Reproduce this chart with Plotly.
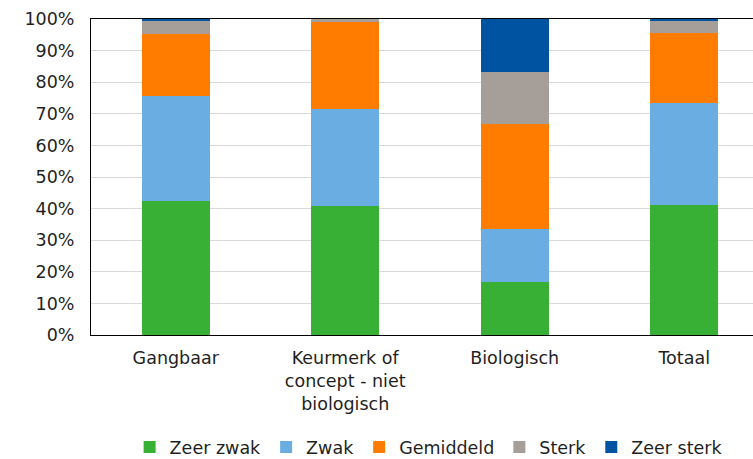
import plotly.graph_objects as go

categories = ["Gangbaar", "Keurmerk of<br>concept - niet<br>biologisch", "Biologisch", "Totaal"]
zeer_zwak = [42.4, 40.8, 16.7, 41.0]
zwak = [33.3, 30.8, 16.7, 32.4]
gemiddeld = [19.5, 27.3, 33.3, 22.2]
sterk = [4.3, 1.1, 16.6, 3.8]
zeer_sterk = [0.5, 0.0, 16.7, 0.6]

series = [
    ("Zeer zwak", zeer_zwak, "#37b035"),
    ("Zwak", zwak, "#6aade3"),
    ("Gemiddeld", gemiddeld, "#ff7c00"),
    ("Sterk", sterk, "#a69e98"),
    ("Zeer sterk", zeer_sterk, "#0053a0"),
]

font = dict(family="DejaVu Sans, Verdana, sans-serif", size=17.5, color="#1f1f1f")

fig = go.Figure()
for name, vals, color in series:
    fig.add_trace(go.Bar(
        x=list(range(len(categories))), y=vals, name=name,
        marker=dict(color=color, line=dict(width=0)),
        width=0.4,
    ))

fig.update_layout(
    barmode="stack",
    width=753, height=459,
    margin=dict(l=91, r=0, t=19, b=124, autoexpand=False),
    paper_bgcolor="white", plot_bgcolor="white",
    font=font,
    showlegend=True,
    legend=dict(
        orientation="h",
        x=0.51, xanchor="center", y=-0.412, yanchor="bottom",
        font=font, itemwidth=30, traceorder="normal",
        bgcolor="rgba(0,0,0,0)",
    ),
    xaxis=dict(
        tickmode="array", tickvals=list(range(len(categories))), ticktext=categories,
        range=[-0.5, 3.406], showline=True, linecolor="black", linewidth=1,
        mirror=True, showgrid=False, ticks="", ticklabelstandoff=7,
    ),
    yaxis=dict(
        range=[0, 100], dtick=10, ticksuffix="%", showline=True,
        linecolor="black", linewidth=1, gridcolor="#d9d9d9", gridwidth=1,
        zeroline=False, ticks="", ticklabelstandoff=12,
    ),
)

fig.write_html("out.html")
